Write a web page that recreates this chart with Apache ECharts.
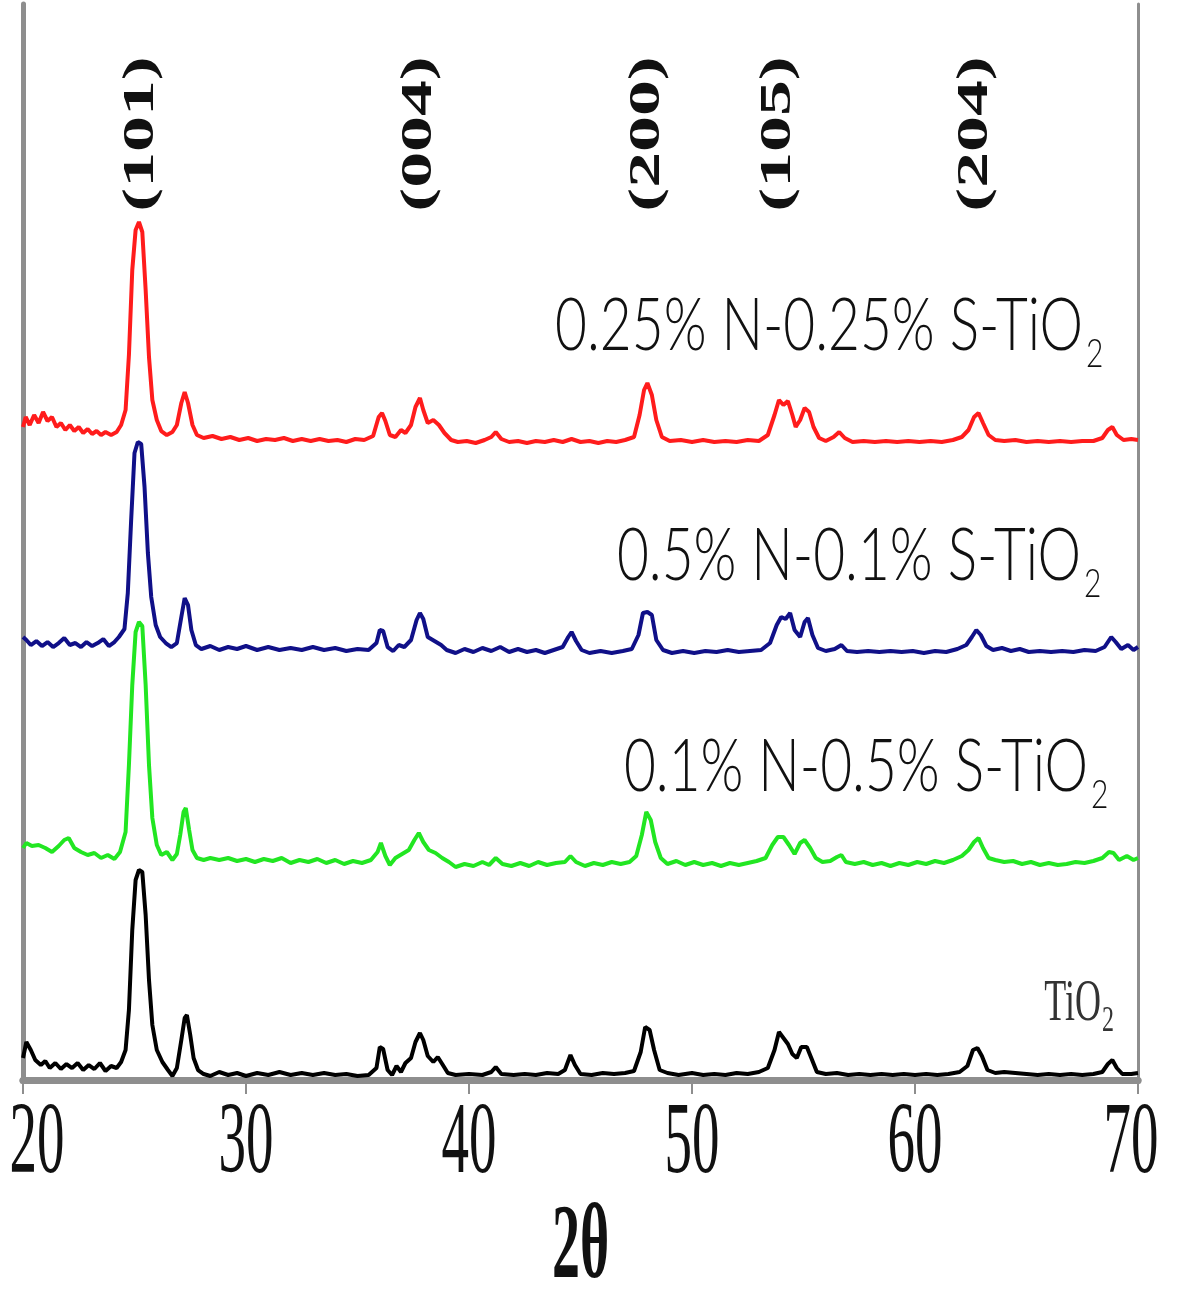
<!DOCTYPE html>
<html>
<head>
<meta charset="utf-8">
<title>XRD</title>
<script src="https://cdn.jsdelivr.net/npm/echarts@6/dist/echarts.min.js"></script>
<style>
  html, body { margin: 0; padding: 0; background: #fff; }
  #chart { width: 1180px; height: 1292px; }
</style>
</head>
<body>
<div id="chart"></div>
<script>
// 2θ ticks and peak labels
const twoThetaTicks = [20, 30, 40, 50, 60, 70];
const hklLabels = ["(101)", "(004)", "(200)", "(105)", "(204)"];
const hklPeaks = [25.3, 37.8, 48.0, 53.9, 62.7];

// sample names (bottom to top) and vertical stacking offset of each pattern
const sampleNames = ["TiO2", "0.1% N-0.5% S-TiO2", "0.5% N-0.1% S-TiO2", "0.25% N-0.25% S-TiO2"];
const sampleColors = ["#000000", "#22e622", "#101088", "#ff1c1c"];
const offsets = [0, 210, 425, 635];

// intensities (a.u.), [2θ, I]
const tio2 = [
  [20.0,22],[20.15,38],[20.35,30],[20.55,20],[20.8,15],[21.0,19],[21.2,12],[21.45,17],[21.7,11],[21.95,16],
  [22.2,12],[22.45,17],[22.7,10],[22.95,15],[23.2,11],[23.45,17],[23.7,9],[23.95,14],[24.2,12],[24.4,18],
  [24.6,30],[24.75,70],[24.9,150],[25.05,200],[25.2,210],[25.35,208],[25.5,165],[25.65,100],[25.8,55],[26.0,30],
  [26.25,18],[26.5,10],[26.7,4],[26.9,12],[27.1,40],[27.25,62],[27.35,65],[27.5,45],[27.65,22],[27.85,10],
  [28.1,6],[28.4,4],[28.8,8],[29.2,5],[29.6,7],[30.0,4],[30.5,7],[31.0,5],[31.5,8],[32.0,5],
  [32.5,7],[33.0,5],[33.5,7],[34.0,5],[34.5,6],[35.0,4],[35.5,5],[35.85,12],[36.0,33],[36.15,31],
  [36.35,10],[36.55,5],[36.75,14],[36.95,8],[37.15,17],[37.4,22],[37.6,38],[37.8,47],[37.95,40],[38.15,24],
  [38.4,18],[38.6,23],[38.8,16],[39.05,7],[39.4,5],[40.0,6],[40.6,5],[41.0,8],[41.2,13],[41.45,6],
  [42.0,5],[42.5,6],[43.0,5],[43.5,7],[44.0,6],[44.3,10],[44.55,25],[44.75,15],[45.0,6],[45.5,5],
  [46.0,7],[46.5,6],[47.0,7],[47.4,9],[47.7,28],[47.9,53],[48.1,50],[48.3,30],[48.55,10],[48.9,7],
  [49.4,5],[50.0,7],[50.5,5],[51.0,6],[51.5,5],[52.0,7],[52.5,6],[53.0,8],[53.4,12],[53.7,30],
  [53.9,48],[54.1,42],[54.3,36],[54.5,26],[54.7,22],[54.9,33],[55.15,33],[55.35,22],[55.6,8],[56.0,6],
  [56.5,7],[57.0,5],[57.5,6],[58.0,5],[58.5,6],[59.0,5],[59.5,6],[60.0,5],[60.5,6],[61.0,5],
  [61.5,6],[62.0,8],[62.35,14],[62.6,30],[62.8,32],[63.0,24],[63.25,10],[63.6,7],[64.0,8],[64.5,7],
  [65.0,6],[65.5,5],[66.0,6],[66.5,5],[67.0,6],[67.5,5],[68.0,6],[68.4,8],[68.65,16],[68.85,20],
  [69.05,12],[69.3,6],[69.7,6],[70.0,7]
];
const n01s05 = [
  [20.0,22],[20.15,27],[20.4,24],[20.7,25],[21.0,22],[21.3,18],[21.6,24],[21.85,30],[22.05,32],[22.3,22],
  [22.6,18],[22.9,15],[23.2,17],[23.5,12],[23.8,15],[24.1,11],[24.35,18],[24.6,38],[24.75,105],[24.9,185],
  [25.05,238],[25.2,248],[25.35,244],[25.5,185],[25.65,105],[25.8,52],[26.0,25],[26.2,15],[26.45,18],[26.7,10],
  [26.9,16],[27.05,35],[27.2,58],[27.3,62],[27.45,40],[27.6,20],[27.8,12],[28.1,10],[28.4,12],[28.8,10],
  [29.2,12],[29.6,9],[30.0,11],[30.4,8],[30.8,11],[31.2,9],[31.6,12],[32.0,7],[32.4,10],[32.8,8],
  [33.2,11],[33.6,7],[34.0,10],[34.4,6],[34.8,9],[35.2,7],[35.6,10],[35.9,18],[36.05,27],[36.25,14],
  [36.45,5],[36.7,12],[37.0,16],[37.3,20],[37.55,30],[37.75,37],[37.95,28],[38.2,20],[38.5,17],[38.8,12],
  [39.1,8],[39.4,3],[39.8,6],[40.2,4],[40.6,8],[40.9,5],[41.2,12],[41.5,6],[41.9,4],[42.3,7],
  [42.7,4],[43.1,8],[43.5,5],[43.9,7],[44.3,8],[44.55,14],[44.8,8],[45.2,4],[45.6,7],[46.0,5],
  [46.4,8],[46.8,6],[47.2,8],[47.5,14],[47.75,35],[47.95,58],[48.15,50],[48.35,28],[48.6,12],[48.9,6],
  [49.3,9],[49.7,5],[50.1,8],[50.5,5],[50.9,7],[51.3,4],[51.7,7],[52.1,5],[52.5,7],[52.9,9],
  [53.3,12],[53.6,25],[53.85,33],[54.1,33],[54.35,25],[54.6,16],[54.85,27],[55.05,30],[55.3,22],[55.55,12],
  [55.85,8],[56.2,9],[56.5,13],[56.7,15],[56.9,8],[57.3,6],[57.7,8],[58.1,5],[58.5,7],[58.9,4],
  [59.3,7],[59.7,5],[60.1,8],[60.5,6],[60.9,9],[61.3,7],[61.7,10],[62.1,14],[62.4,20],[62.65,28],
  [62.85,32],[63.05,22],[63.3,12],[63.6,10],[64.0,8],[64.4,9],[64.8,6],[65.2,8],[65.6,5],[66.0,7],
  [66.4,5],[66.8,6],[67.2,8],[67.6,7],[68.0,9],[68.4,12],[68.7,18],[68.9,17],[69.15,10],[69.5,14],
  [69.8,10],[70.0,12]
];
const n05s01 = [
  [20.0,18],[20.15,15],[20.35,10],[20.6,14],[20.85,9],[21.1,13],[21.35,8],[21.6,12],[21.85,17],[22.1,10],
  [22.35,12],[22.6,8],[22.85,13],[23.1,9],[23.35,12],[23.6,16],[23.85,9],[24.1,13],[24.3,18],[24.55,26],
  [24.7,62],[24.85,135],[25.0,202],[25.15,213],[25.3,211],[25.45,168],[25.6,102],[25.75,58],[25.95,30],[26.15,18],
  [26.4,12],[26.65,8],[26.9,12],[27.1,38],[27.25,57],[27.4,50],[27.55,25],[27.75,10],[28.0,6],[28.4,9],
  [28.8,5],[29.2,8],[29.6,6],[30.0,9],[30.5,5],[31.0,8],[31.5,5],[32.0,7],[32.5,5],[33.0,8],
  [33.5,5],[34.0,7],[34.5,4],[35.0,6],[35.5,5],[35.85,12],[36.0,25],[36.15,24],[36.35,8],[36.6,4],
  [36.85,10],[37.1,8],[37.4,15],[37.65,35],[37.8,42],[37.95,36],[38.15,18],[38.45,14],[38.75,10],[39.0,5],
  [39.4,2],[39.8,6],[40.2,3],[40.6,7],[41.0,4],[41.4,8],[41.8,3],[42.2,6],[42.6,3],[43.0,5],
  [43.4,2],[43.8,5],[44.2,8],[44.45,18],[44.6,23],[44.8,14],[45.05,5],[45.4,2],[45.9,4],[46.4,2],
  [46.9,4],[47.3,6],[47.6,20],[47.8,42],[48.0,43],[48.2,40],[48.4,15],[48.7,5],[49.1,2],[49.6,4],
  [50.1,2],[50.6,4],[51.1,3],[51.6,5],[52.1,3],[52.6,4],[53.1,5],[53.5,12],[53.8,30],[54.0,38],
  [54.2,36],[54.4,42],[54.6,25],[54.85,18],[55.05,33],[55.2,37],[55.4,20],[55.65,7],[56.0,4],[56.4,6],
  [56.7,10],[56.95,4],[57.4,3],[57.9,4],[58.4,3],[58.9,4],[59.4,3],[59.9,4],[60.4,2],[60.9,4],
  [61.4,3],[61.9,6],[62.3,10],[62.55,18],[62.75,25],[62.95,20],[63.2,9],[63.5,5],[63.9,7],[64.3,4],
  [64.7,6],[65.1,3],[65.6,4],[66.1,3],[66.6,4],[67.1,3],[67.6,5],[68.1,4],[68.5,8],[68.8,18],
  [69.0,13],[69.25,6],[69.55,10],[69.8,5],[70.0,8]
];
const n025s025 = [
  [20.0,18],[20.12,28],[20.3,20],[20.5,30],[20.7,22],[20.9,33],[21.1,24],[21.3,28],[21.5,18],[21.7,22],
  [21.9,15],[22.1,20],[22.3,14],[22.5,18],[22.7,12],[22.9,16],[23.1,11],[23.3,14],[23.5,10],[23.7,13],
  [23.95,10],[24.2,13],[24.4,20],[24.6,35],[24.75,90],[24.9,175],[25.05,215],[25.2,223],[25.35,213],[25.5,155],
  [25.65,88],[25.8,45],[26.0,25],[26.2,14],[26.45,10],[26.7,13],[26.9,20],[27.1,42],[27.25,53],[27.4,42],
  [27.6,20],[27.8,10],[28.1,7],[28.5,9],[28.9,6],[29.3,8],[29.7,5],[30.1,7],[30.5,4],[30.9,6],
  [31.3,5],[31.7,7],[32.1,4],[32.5,6],[32.9,4],[33.3,6],[33.7,4],[34.1,5],[34.5,3],[34.9,6],
  [35.3,5],[35.7,9],[35.95,28],[36.1,32],[36.25,24],[36.45,10],[36.7,8],[36.95,15],[37.15,12],[37.4,20],
  [37.6,38],[37.8,47],[37.95,35],[38.15,22],[38.4,25],[38.65,20],[38.9,12],[39.2,5],[39.5,3],[39.9,4],
  [40.3,2],[40.7,5],[41.0,8],[41.2,13],[41.45,6],[41.8,3],[42.2,4],[42.6,2],[43.0,4],[43.4,3],
  [43.8,5],[44.2,3],[44.6,6],[45.0,3],[45.4,4],[45.8,2],[46.2,4],[46.6,3],[47.0,5],[47.4,8],
  [47.65,30],[47.85,55],[48.0,62],[48.2,50],[48.4,25],[48.65,8],[49.0,4],[49.5,5],[50.0,3],[50.5,5],
  [51.0,3],[51.5,4],[52.0,3],[52.5,5],[53.0,4],[53.4,10],[53.7,30],[53.9,45],[54.1,40],[54.3,44],
  [54.5,30],[54.65,18],[54.85,25],[55.05,37],[55.25,33],[55.45,18],[55.7,7],[56.0,4],[56.35,8],[56.6,13],
  [56.85,7],[57.2,3],[57.7,4],[58.2,3],[58.7,4],[59.2,3],[59.7,4],[60.2,3],[60.7,4],[61.2,3],
  [61.7,5],[62.1,8],[62.4,15],[62.65,28],[62.85,32],[63.05,22],[63.3,10],[63.6,5],[64.0,4],[64.5,5],
  [65.0,3],[65.5,4],[66.0,3],[66.5,4],[67.0,3],[67.5,4],[68.0,4],[68.4,7],[68.65,15],[68.85,18],
  [69.05,10],[69.35,5],[69.7,6],[70.0,5]
];
const patterns = [tio2, n01s05, n05s01, n025s025];

let chart = echarts.init(document.getElementById("chart"));

let frame = { color: "#8e8e8e" };
let option = {
  animation: false,
  backgroundColor: "#fff",
  grid: { left: 23, right: 42, top: 4, bottom: 212 },
  xAxis: [
    {
      type: "value", min: 20, max: 70, interval: 10, position: "bottom",
      axisLine: { lineStyle: { color: "#9c9c9c", width: 7 } },
      axisTick: { show: true, length: 14, lineStyle: { color: frame.color, width: 2 } },
      axisLabel: { show: false },
      splitLine: { show: false }
    },
    {
      type: "value", min: 20, max: 70, position: "top",
      axisLine: { lineStyle: { color: frame.color, width: 7 } },
      axisTick: { show: false }, axisLabel: { show: false }, splitLine: { show: false }
    }
  ],
  yAxis: [
    {
      type: "value", min: 0, max: 1076, position: "left",
      axisLine: { show: true, lineStyle: { color: frame.color, width: 5 } },
      axisTick: { show: false }, axisLabel: { show: false }, splitLine: { show: false }
    },
    {
      type: "value", min: 0, max: 1076, position: "right",
      axisLine: { show: true, lineStyle: { color: frame.color, width: 3 } },
      axisTick: { show: false }, axisLabel: { show: false }, splitLine: { show: false }
    }
  ],
  series: patterns.map(function(p, i) {
    return {
      name: sampleNames[i],
      type: "line",
      showSymbol: false,
      symbol: "none",
      z: 10 - i,
      lineStyle: { color: sampleColors[i], width: 4 },
      data: p.map(function(d) { return [d[0], d[1] + offsets[i]]; })
    };
  })
};
chart.setOption(option);

// texts (the original figure has vertically stretched lettering)
let xPx = function(v) { return chart.convertToPixel({ xAxisIndex: 0 }, v); };
let graphics = [];

twoThetaTicks.forEach(function(t) {
  let x = Math.min(Math.max(xPx(t), 37), 1131);
  graphics.push({
    type: "text", x: x, y: 1145, scaleY: 1.85, silent: true,
    style: { text: String(t), font: '55px "Liberation Serif"', fill: "#111",
      align: "center", verticalAlign: "middle", textAlign: "center", textVerticalAlign: "middle" }
  });
});

graphics.push({
  type: "text", x: xPx(45), y: 1250, scaleY: 1.9, silent: true,
  style: { text: "2θ", font: 'bold 56px "Liberation Serif"', fill: "#111",
    align: "center", verticalAlign: "middle", textAlign: "center", textVerticalAlign: "middle" }
});

hklLabels.forEach(function(h, i) {
  graphics.push({
    type: "text", x: xPx(hklPeaks[i]), y: 134, rotation: Math.PI / 2, scaleX: 1.63, silent: true,
    style: { text: h, font: 'bold 44px "Liberation Serif"', fill: "#111",
      align: "center", verticalAlign: "middle", textAlign: "center", textVerticalAlign: "middle" }
  });
});

// doped sample names: main text + subscript 2
let nameSpots = [null, { r: 1088, y: 767 }, { r: 1081, y: 556 }, { r: 1083, y: 326 }];
for (let i = 1; i < 4; i++) {
  let s = nameSpots[i];
  graphics.push({
    type: "text", x: s.r, y: s.y, scaleY: 1.33, silent: true,
    style: { text: sampleNames[i].slice(0, -1), font: '300 55px Lato', fill: "#111",
      align: "right", verticalAlign: "middle", textAlign: "right", textVerticalAlign: "middle" }
  });
  graphics.push({
    type: "text", x: s.r + 3, y: s.y + 28, scaleY: 1.33, silent: true,
    style: { text: "2", font: '300 30px Lato', fill: "#111",
      align: "left", verticalAlign: "middle", textAlign: "left", textVerticalAlign: "middle" }
  });
}
graphics.push({
  type: "text", x: 1101, y: 1004, scaleY: 1.65, silent: true,
  style: { text: "TiO", font: '36px "Liberation Serif"', fill: "#333",
    align: "right", verticalAlign: "middle", textAlign: "right", textVerticalAlign: "middle" }
});
graphics.push({
  type: "text", x: 1102, y: 1022, scaleY: 1.5, silent: true,
  style: { text: "2", font: '24px "Liberation Serif"', fill: "#333",
    align: "left", verticalAlign: "middle", textAlign: "left", textVerticalAlign: "middle" }
});

chart.setOption({ graphic: graphics });
</script>
</body>
</html>
